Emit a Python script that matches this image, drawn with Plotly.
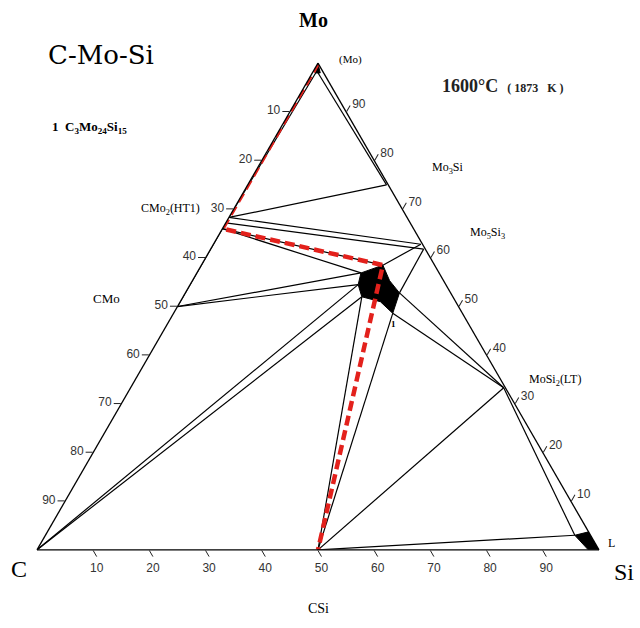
import plotly.graph_objects as go

# ---- phase compositions, at.% as (Mo, C, Si) ----
MO_CORNER = (100.0, 0.0, 0.0)
MO_SS = (98.4, 1.0, 0.6)
CMO2_U = (68.3, 31.7, 0.0)
CMO2_M = (67.2, 32.8, 0.0)
CMO2_L = (66.0, 34.0, 0.0)
CMO = (50.0, 50.0, 0.0)
C_CORNER = (0.0, 100.0, 0.0)
CSI = (0.0, 50.0, 50.0)
SI_CORNER = (0.0, 0.0, 100.0)
MO3SI = (75.0, 0.3, 24.7)
MO5SI3_U = (62.8, 0.3, 36.9)
MO5SI3_L = (61.8, 0.3, 37.9)
MOSI2 = (33.3, 0.3, 66.4)

# ternary phase 1 (C3Mo24Si15) homogeneity region
T1_V1 = (56.9, 13.9, 29.2)
T1_V2 = (58.5, 9.2, 32.3)
T1_V3 = (55.3, 9.6, 35.1)
T1_V4 = (52.8, 9.1, 38.1)
T1_V5 = (48.6, 12.4, 39.0)
T1_V6 = (51.0, 13.4, 35.6)
T1_V7 = (52.0, 16.2, 31.8)
T1_V8 = (54.5, 15.6, 29.9)
T1_REGION = [T1_V1, T1_V2, T1_V3, T1_V4, T1_V5, T1_V6, T1_V7, T1_V8]

# liquid region near Si corner
L1 = (3.0, 2.8, 94.2)
L2 = (3.7, 0.0, 96.3)
L3 = (0.0, 0.0, 100.0)
L4 = (0.0, 1.9, 98.1)
L_REGION = [L1, L2, L3, L4]

# Mo solid solution corner blob
MO_REGION = [MO_CORNER, (98.0, 1.4, 0.6), (98.0, 0.6, 1.4)]

# tie lines / phase boundaries
TIE_LINES = [
    (MO_SS, CMO2_U), (MO_SS, MO3SI), (CMO2_U, MO3SI),
    (CMO2_U, MO5SI3_U), (CMO2_M, MO5SI3_L),
    (CMO2_L, T1_V2), (CMO2_L, T1_V1), (CMO2_L, CMO),
    (MO5SI3_U, T1_V2), (MO5SI3_L, T1_V4),
    (CMO, T1_V1), (CMO, T1_V8),
    (C_CORNER, T1_V8), (C_CORNER, T1_V7),
    (T1_V7, CSI), (T1_V5, CSI),
    (T1_V4, MOSI2), (T1_V5, MOSI2),
    (CSI, MOSI2), (CSI, L1), (MOSI2, L1),
]

# highlighted (red dashed) section path
RED_PATH = [MO_CORNER, CMO2_L, T1_V2, CSI]

# tick values along each axis and the labels printed in the reference
A_TICKS = [90, 80, 70, 60, 50, 40, 30, 20, 10]          # Mo -> left edge shows at.% C
A_LABELS = ["10", "20", "30", "40", "50", "60", "70", "80", "90"]
B_TICKS = [90, 80, 70, 60, 50, 40, 30, 20, 10]          # C -> bottom shows at.% Si
B_LABELS = ["10", "20", "30", "40", "50", "60", "70", "80", "90"]
C_TICKS = [10, 20, 30, 40, 50, 60, 70, 80, 90]          # Si -> right edge shows at.% Mo
C_LABELS = ["90", "80", "70", "60", "50", "40", "30", "20", "10"]


def abc(points):
    return ([p[0] for p in points], [p[1] for p in points], [p[2] for p in points])


fig = go.Figure()

for p, q in TIE_LINES:
    a, b, c = abc([p, q])
    fig.add_trace(go.Scatterternary(a=a, b=b, c=c, mode="lines",
                                    line=dict(color="black", width=1.2),
                                    hoverinfo="skip", showlegend=False))

for region in (T1_REGION, L_REGION, MO_REGION):
    a, b, c = abc(region + [region[0]])
    fig.add_trace(go.Scatterternary(a=a, b=b, c=c, mode="lines", fill="toself",
                                    fillcolor="black", line=dict(color="black", width=1),
                                    hoverinfo="skip", showlegend=False))

a, b, c = abc(RED_PATH)
fig.add_trace(go.Scatterternary(a=a, b=b, c=c, mode="lines", cliponaxis=False,
                                line=dict(color="#e3211c", width=4.5, dash="10px,5px"),
                                hoverinfo="skip", showlegend=False))

axis_style = dict(showgrid=False, showline=True, linecolor="black", linewidth=1.3,
                  ticks="outside", ticklen=7, tickcolor="#222", min=0,
                  tickfont=dict(family="Liberation Sans", size=12, color="#333"),
                  title=dict(text=""))

fig.update_layout(
    width=640, height=628,
    margin=dict(l=0, r=0, t=0, b=0),
    paper_bgcolor="white",
    ternary=dict(
        sum=100,
        bgcolor="white",
        domain=dict(x=[0.0578, 0.9359], y=[0.1119, 0.9119]),
        aaxis=dict(tickvals=A_TICKS, ticktext=A_LABELS, **axis_style),
        baxis=dict(tickvals=B_TICKS, ticktext=B_LABELS, **axis_style),
        caxis=dict(tickvals=C_TICKS, ticktext=C_LABELS, **axis_style),
    ),
)

SERIF = "Liberation Serif"


def px(x, y, text, size, family=SERIF, anchor="center", bold=False, color="black"):
    if bold:
        text = "<b>" + text + "</b>"
    fig.add_annotation(x=x / 640, y=1 - y / 628, xref="paper", yref="paper",
                       text=text, showarrow=False, xanchor=anchor, yanchor="middle",
                       font=dict(family=family, size=size, color=color))


px(313, 20, "Mo", 20, bold=True)
px(101, 55, "C-Mo-Si", 26, family="DejaVu Serif")
px(50, 127, "1&nbsp;&nbsp;C<sub>3</sub>Mo<sub>24</sub>Si<sub>15</sub>", 13, anchor="left", bold=True)
px(440, 86, "1600°C&nbsp;&nbsp;<span style='font-size:12px'>(&nbsp;1873&nbsp;&nbsp;&nbsp;K&nbsp;)</span>", 18,
   anchor="left", bold=True, color="#222")
px(350, 60, "(Mo)", 11)
px(448, 168, "Mo<sub>3</sub>Si", 12)
px(487, 233, "Mo<sub>5</sub>Si<sub>3</sub>", 12)
px(170, 209, "CMo<sub>2</sub>(HT1)", 12)
px(106, 298, "CMo", 13)
px(555, 380, "MoSi<sub>2</sub>(LT)", 12)
px(393, 324, "1", 9, bold=True)
px(611, 543, "L", 12)
px(19, 569, "C", 24)
px(624, 572, "Si", 24)
px(318, 608, "CSi", 14)

fig.write_html("out.html", config={"displayModeBar": False},
               post_script="document.body.style.margin='0';document.body.style.overflow='hidden';")
